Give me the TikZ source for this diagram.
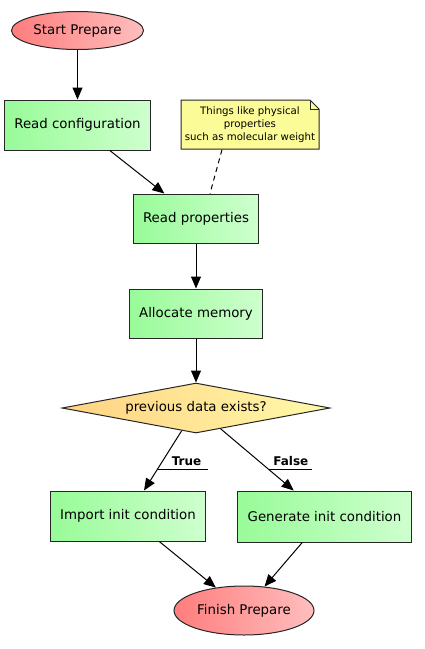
\documentclass[tikz,border=0pt]{standalone}
\usepackage{fontspec}
\setmainfont{DejaVu Sans}
\usetikzlibrary{shapes.geometric,arrows.meta}

\definecolor{boxL}{RGB}{152,251,152}
\definecolor{boxR}{RGB}{206,255,206}
\definecolor{ellL}{RGB}{255,125,125}
\definecolor{ellR}{RGB}{255,190,190}
\definecolor{decL}{RGB}{255,210,130}
\definecolor{decR}{RGB}{255,250,170}
\definecolor{noteY}{RGB}{251,251,151}

\tikzset{
	stepbox/.style={draw=black!85, line width=1pt, left color=boxL, right color=boxR,
		inner xsep=10pt, minimum height=50pt},
	endpoint/.style={ellipse, draw=black!85, line width=1pt, left color=ellL, right color=ellR, inner sep=0pt},
	choice/.style={diamond, aspect=5.36, draw=black!85, line width=1pt, left color=decL, right color=decR,
		inner sep=0pt, minimum width=268pt, minimum height=50pt},
	arr/.style={-{Triangle[length=12pt,width=10pt]}, line width=1pt},
	branch/.style={font=\fontsize{12}{14}\bfseries}
}

\begin{document}
\begin{tikzpicture}[x=1pt,y=-1pt,every node/.style={font=\fontsize{13.35}{16}\selectfont}]
	\useasboundingbox (0,0) rectangle (425,649);
	\node[endpoint,minimum width=132pt,minimum height=38pt] (start) at (77.5,30.5) {Start Prepare};
	\node[stepbox] (rconf) at (77.5,125) {Read configuration};
	\node[stepbox,minimum height=49pt] (rprop) at (196,218.5) {Read properties};
	\node[stepbox,minimum height=49pt] (alloc) at (196,313.5) {Allocate memory};
	\node[choice] (exists) at (196,408) {previous data exists?};
	\node[stepbox] (import) at (128,516) {Import init condition};
	\node[stepbox,minimum height=51pt] (gener) at (324.5,516.5) {Generate init condition};
	\node[endpoint,minimum width=140pt,minimum height=49pt] (finish) at (244,610.5) {Finish Prepare};
	% note
	\filldraw[fill=noteY, draw=black!85, line width=1pt] (181,100) -- (310,100) -- (319,109) -- (319,149) -- (181,149) -- cycle;
	\draw[black!85, line width=1pt] (310,100) -- (310,109) -- (319,109);
	\node[minimum width=138pt,minimum height=49pt,align=center,font=\fontsize{10.2}{13}\selectfont] (note) at (250,125)
		{Things like physical\\properties\\such as molecular weight};
	\path [arr] (start) edge (rconf);
	\path [arr] (rconf) edge (rprop);
	\path [dashed, dash pattern=on 5pt off 4pt, line width=1pt] ([xshift=-28pt]note.south) edge ([xshift=14pt]rprop.north);
	\path [arr] (rprop) edge (alloc);
	\path [arr] (alloc) edge (exists);
	\path [arr] (exists) edge (import);
	\path [arr] (exists) edge (gener);
	\path [arr] (import) edge (finish);
	\path [arr] (gener) edge (finish);
	% branch labels
	\node[branch] (yes) at (186.5,461) {True};
	\node[branch] (no) at (290.8,461) {False};
	\draw[line width=1pt] (158,469.5) -- (208,469.5);
	\draw[line width=1pt] (269,469.5) -- (312,469.5);
\end{tikzpicture}
\end{document}
